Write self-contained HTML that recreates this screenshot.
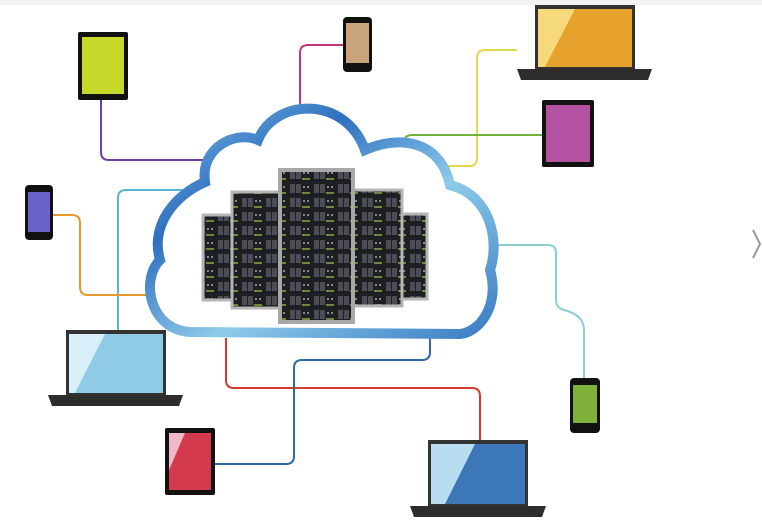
<!DOCTYPE html>
<html><head><meta charset="utf-8"><style>
html,body{margin:0;padding:0;background:#fff;}
svg{display:block}
</style></head><body>
<svg width="762" height="522" viewBox="0 0 762 522" xmlns="http://www.w3.org/2000/svg">
<defs>
<linearGradient id="cl" x1="0" y1="0" x2="1" y2="1">
<stop offset="0" stop-color="#7fbfe8"/><stop offset=".3" stop-color="#2f6fbf"/><stop offset=".6" stop-color="#8dcbea"/><stop offset="1" stop-color="#3a7cc4"/></linearGradient>
<pattern id="srv" width="24" height="14" patternUnits="userSpaceOnUse">
<rect width="24" height="14" fill="#1e1f23"/><rect x="2" y="2" width="5" height="9" fill="#4a4d55"/><rect x="8" y="2" width="5" height="9" fill="#4a4d55"/><rect x="15" y="4" width="2" height="2" fill="#888"/><rect x="19" y="4" width="2" height="2" fill="#888"/><rect x="14" y="10" width="8" height="2" fill="#6a8a3a"/></pattern>
</defs>
<rect x="0" y="0" width="762" height="5" fill="#f2f2f2"/>
<g fill="none" stroke-width="2">
<path d="M101 100 V152 q0 8 8 8 H210" stroke="#6e3fa0"/>
<path d="M343 45 H308 q-8 0 -8 8 V112" stroke="#c2367a"/>
<path d="M517 50 H485 q-8 0 -8 8 V158 q0 8 -8 8 H410" stroke="#e3da4a"/>
<path d="M543 135 H412 q-8 0 -8 8 V152" stroke="#6fb23a"/>
<path d="M198 190 H126 q-8 0 -8 8 V330" stroke="#57b7d6"/>
<path d="M53 215 H72 q8 0 8 8 V287 q0 8 8 8 H158" stroke="#e8962e"/>
<path d="M493 245 H548 q8 0 8 8 V300 q0 8 8 10 q20 5 20 20 V380" stroke="#8ccfcf"/>
<path d="M226 338 V380 q0 8 8 8 H472 q8 0 8 8 V442" stroke="#d63a2a"/>
<path d="M430 338 V352 q0 8 -8 8 H302 q-8 0 -8 8 V456 q0 8 -8 8 H215" stroke="#2e6aa8"/>
</g>
<path d="M190 332 C150 330 140 280 160 260 C150 225 175 195 205 182 C200 148 235 130 258 140 C275 98 345 95 365 150 C400 135 440 140 450 185 C490 195 500 240 490 270 C500 305 480 332 460 334 Z" fill="#fff" stroke="url(#cl)" stroke-width="10"/>
<g stroke="#b5b5b5" stroke-width="3">
<rect x="203" y="215" width="30" height="85" fill="url(#srv)"/>
<rect x="398" y="214" width="29" height="85" fill="url(#srv)"/>
<rect x="232" y="192" width="50" height="116" fill="url(#srv)"/>
<rect x="353" y="190" width="49" height="116" fill="url(#srv)"/>
<rect x="280" y="170" width="73" height="152" fill="url(#srv)" stroke="#a8a8a8" stroke-width="4"/>
</g>
<g>
<rect x="78" y="32" width="50" height="68" rx="2" fill="#111"/><rect x="82" y="37" width="42" height="57" fill="#c6d92a"/>
<rect x="343" y="17" width="29" height="55" rx="4" fill="#111"/><rect x="346" y="23" width="23" height="40" fill="#c9a47a"/>
<rect x="535" y="5" width="100" height="64" fill="#333"/><rect x="538" y="9" width="94" height="58" fill="#e6a22c"/><polygon points="538,9 575,9 545,67 538,67" fill="#f5d97a"/>
<path d="M517 69 H652 L648 80 H521 Z" fill="#2f2c2c"/>
<rect x="542" y="100" width="52" height="67" rx="2" fill="#111"/><rect x="546" y="105" width="44" height="57" fill="#b553a3"/>
<rect x="25" y="185" width="28" height="55" rx="4" fill="#111"/><rect x="28" y="192" width="22" height="40" fill="#6b64c8"/>
<rect x="66" y="330" width="100" height="65" fill="#333"/><rect x="69" y="334" width="94" height="59" fill="#8fcbe6"/><polygon points="69,334 105,334 75,393 69,393" fill="#d8eef8"/>
<path d="M48 395 H183 L179 406 H52 Z" fill="#2f2c2c"/>
<rect x="570" y="378" width="30" height="55" rx="4" fill="#111"/><rect x="573" y="385" width="24" height="38" fill="#7fb03a"/>
<rect x="165" y="428" width="50" height="67" rx="2" fill="#111"/><rect x="169" y="433" width="42" height="57" fill="#d43a4e"/><polygon points="169,433 185,433 169,470" fill="#f0b8c8"/>
<rect x="428" y="440" width="100" height="66" fill="#333"/><rect x="431" y="444" width="94" height="60" fill="#3c78b8"/><polygon points="431,444 475,444 445,504 431,504" fill="#b8dcf0"/>
<path d="M410 506 H546 L542 517 H414 Z" fill="#2f2c2c"/>
</g>
<path d="M753 230 L760 244 L753 258" fill="none" stroke="#999" stroke-width="2"/>
</svg>
</body></html>
